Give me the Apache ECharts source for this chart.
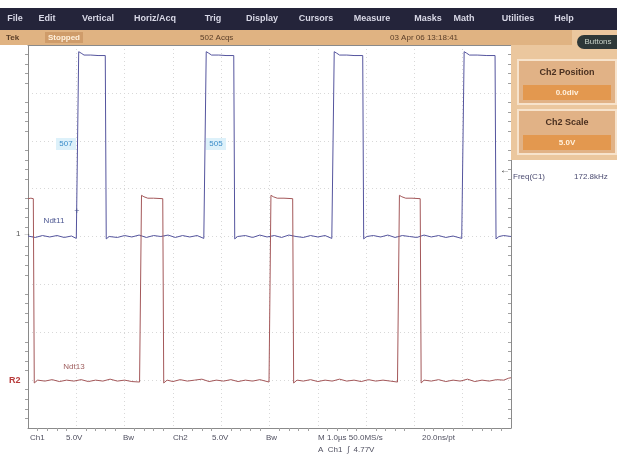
<!DOCTYPE html>
<html>
<head>
<meta charset="utf-8">
<script src="https://cdn.jsdelivr.net/npm/echarts@6/dist/echarts.min.js"></script>
<style>
html,body{margin:0;padding:0;background:#fff;}
#main{width:617px;height:456px;}
</style>
</head>
<body>
<div id="main"></div>
<script>
// time in divisions (1.0us/div), level in divisions (5.0V/div)
var blueTime = [0,0.15,0.3,0.45,0.6,0.75,0.9,1.0,1.03, 1.05,1.1,1.16,1.3,1.45,1.6,
	1.62,1.68,1.85,2.0,2.15,2.3,2.45,2.6,2.75,2.9,3.05,3.2,3.35,3.5,3.64,3.67,
	3.69,3.74,3.8,3.95,4.1,4.26,
	4.28,4.34,4.5,4.65,4.8,4.95,5.1,5.25,5.4,5.55,5.7,5.85,6.0,6.15,6.29,6.32,
	6.34,6.39,6.45,6.6,6.75,6.93,
	6.95,7.01,7.15,7.3,7.45,7.6,7.75,7.9,8.05,8.2,8.35,8.5,8.65,8.8,8.98,9.01,
	9.03,9.08,9.14,9.3,9.5,9.67,
	9.69,9.75,9.85,10];
var blueLevel = [0.01,-0.02,0.02,-0.01,0.02,-0.02,0.01,-0.04,-0.02, 3.86,3.83,3.79,3.79,3.78,3.78,
	-0.05,0.0,-0.02,0.02,-0.01,0.03,-0.02,0.02,0.0,0.03,-0.02,0.02,-0.01,0.02,-0.04,-0.02,
	3.86,3.83,3.79,3.79,3.78,3.78,
	-0.05,0.0,0.02,-0.02,0.03,-0.01,0.02,-0.02,0.03,0.0,-0.02,0.02,-0.01,0.02,-0.04,-0.02,
	3.86,3.83,3.79,3.79,3.78,3.78,
	-0.05,0.0,0.02,-0.01,0.03,-0.02,0.02,0.0,-0.02,0.03,-0.01,0.02,-0.02,0.01,-0.04,-0.02,
	3.86,3.83,3.79,3.79,3.78,3.78,
	-0.05,0.0,0.02,0.0];

var redTime = [0,0.06,0.11, 0.13,0.2,0.35,0.5,0.65,0.8,0.95,1.1,1.25,1.4,1.55,1.7,1.85,2.0,2.15,2.31,2.33,
	2.35,2.4,2.48,2.6,2.79,
	2.81,2.88,3.0,3.15,3.3,3.45,3.6,3.75,3.9,4.05,4.2,4.35,4.5,4.65,4.8,4.99,5.01,
	5.03,5.08,5.16,5.3,5.48,
	5.5,5.57,5.7,5.85,6.0,6.15,6.3,6.45,6.6,6.75,6.9,7.05,7.2,7.35,7.5,7.65,7.67,
	7.69,7.74,7.82,7.95,8.12,
	8.14,8.2,8.35,8.5,8.65,8.8,8.95,9.1,9.25,9.4,9.55,9.7,9.85,9.95,10];
var redLevel = [0.79,0.8,0.79, -3.06,-3.0,-3.02,-2.99,-3.03,-3.0,-3.02,-2.99,-3.03,-3.0,-3.02,-2.98,-3.02,-3.0,-3.03,-3.04,-3.02,
	0.86,0.83,0.8,0.8,0.79,
	-3.06,-3.0,-3.03,-2.99,-3.02,-3.0,-2.98,-3.03,-3.0,-3.02,-2.99,-3.03,-3.0,-3.02,-2.99,-3.04,-3.02,
	0.86,0.83,0.8,0.8,0.79,
	-3.06,-3.0,-3.02,-2.99,-3.03,-3.0,-3.02,-2.98,-3.02,-3.0,-3.03,-2.99,-3.02,-3.0,-3.02,-3.04,-3.02,
	0.86,0.83,0.8,0.8,0.79,
	-3.06,-3.0,-3.02,-2.99,-3.03,-3.0,-3.02,-2.98,-3.03,-3.0,-3.02,-2.99,-3.0,-2.96,-2.95];

var menuItems = ['File','Edit','Vertical','Horiz/Acq','Trig','Display','Cursors','Measure','Masks','Math','Utilities','Help'];
var menuX = [15,47,98,155,213,262,316,372,428,464,518,564];

var bottomRow1 = [['Ch1',30],['5.0V',66],['Bw',123],['Ch2',173],['5.0V',212],['Bw',266],['M 1.0\u00b5s 50.0MS/s',318],['20.0ns/pt',422]];
var bottomRow2 = [['A  Ch1  \u222b  4.77V',318]];

var font = '"Liberation Sans", Arial, sans-serif';

function pairs(t, v){
	var out = [];
	for (var i = 0; i < t.length; i++) out.push([t[i], v[i]]);
	return out;
}

function frameAxis(pos, isX, ticks, inside){
	return {
		type:'value', position:pos,
		min: isX ? 0 : -4, max: isX ? 10 : 4, interval:1,
		axisLine:{show:true, onZero:false, lineStyle:{color:'#8a8a8a', width:1}},
		axisTick:{show:false},
		minorTick:{show:ticks, splitNumber:5, length:3, lineStyle:{color:'#a0a0a0'}},
		axisLabel:{show:false, inside:inside},
		splitLine:{show:false}
	};
}

var chart = echarts.init(document.getElementById('main'));

var xMain = frameAxis('bottom', true, true, false);
xMain.splitLine = {show:true, lineStyle:{color:'#d8d8d8', type:[1,3], width:1}};
var yMain = frameAxis('left', false, true, false);
yMain.splitLine = {show:true, lineStyle:{color:'#d8d8d8', type:[1,3], width:1}};
var xTop = frameAxis('top', true, false, false);
var yRight = frameAxis('right', false, true, true);
yRight.minorTick.length = -3;

var gfx = [];
gfx.push({type:'rect', shape:{x:0,y:8,width:617,height:22}, style:{fill:'#24243a'}, z:10});
for (var i = 0; i < menuItems.length; i++) {
	gfx.push({type:'text', x:menuX[i], y:19, style:{text:menuItems[i], fill:'#d8d8e6', font:'bold 9px ' + font, textAlign:'center', textVerticalAlign:'middle'}, z:11});
}
gfx.push({type:'rect', shape:{x:0,y:30,width:572,height:15}, style:{fill:'#e0b382'}, z:10});
gfx.push({type:'rect', shape:{x:45,y:32,width:38,height:11}, style:{fill:'#cf9c6a'}, z:10});
gfx.push({type:'text', x:6, y:37.5, style:{text:'Tek', fill:'#5a3e28', font:'bold 8px ' + font, textVerticalAlign:'middle'}, z:11});
gfx.push({type:'text', x:48, y:37.5, style:{text:'Stopped', fill:'#fff0dc', font:'bold 8px ' + font, textVerticalAlign:'middle'}, z:11});
gfx.push({type:'text', x:200, y:37.5, style:{text:'502 Acqs', fill:'#5a3e28', font:'8px ' + font, textVerticalAlign:'middle'}, z:11});
gfx.push({type:'text', x:390, y:37.5, style:{text:'03 Apr 06 13:18:41', fill:'#5a3e28', font:'8px ' + font, textVerticalAlign:'middle'}, z:11});
// right side panel
gfx.push({type:'rect', shape:{x:511,y:30,width:106,height:130}, style:{fill:'#ebc79e'}, z:9});
gfx.push({type:'rect', shape:{x:577,y:35,width:50,height:14,r:7}, style:{fill:'#2e3838'}, z:11});
gfx.push({type:'text', x:598, y:42, style:{text:'Buttons', fill:'#c8d2c8', font:'8px ' + font, textAlign:'center', textVerticalAlign:'middle'}, z:12});
var boxes = [['Ch2 Position','0.0div',60],['Ch2 Scale','5.0V',110]];
for (var b = 0; b < boxes.length; b++) {
	var by = boxes[b][2];
	gfx.push({type:'rect', shape:{x:518,y:by,width:98,height:44}, style:{fill:'#e1b286', stroke:'#f7e3cc', lineWidth:2}, z:10});
	gfx.push({type:'text', x:567, y:by + 13, style:{text:boxes[b][0], fill:'#4a3020', font:'bold 9px ' + font, textAlign:'center', textVerticalAlign:'middle'}, z:11});
	gfx.push({type:'rect', shape:{x:523,y:by + 25,width:88,height:15}, style:{fill:'#e3984f'}, z:11});
	gfx.push({type:'text', x:567, y:by + 33, style:{text:boxes[b][1], fill:'#fff1de', font:'bold 8px ' + font, textAlign:'center', textVerticalAlign:'middle'}, z:12});
}
// measurement readout
gfx.push({type:'text', x:500, y:170, style:{text:'\u2190', fill:'#333', font:'10px ' + font, textVerticalAlign:'middle'}, z:11});
gfx.push({type:'text', x:513, y:177, style:{text:'Freq(C1)', fill:'#4a4a70', font:'8px ' + font, textVerticalAlign:'middle'}, z:11});
gfx.push({type:'text', x:574, y:177, style:{text:'172.8kHz', fill:'#4a4a70', font:'8px ' + font, textVerticalAlign:'middle'}, z:11});
// in-screen labels
var tags = [['507',66,144],['505',216,144]];
for (var k = 0; k < tags.length; k++) {
	gfx.push({type:'rect', shape:{x:tags[k][1] - 10,y:tags[k][2] - 6,width:20,height:12}, style:{fill:'#ddf1fa'}, z:11});
	gfx.push({type:'text', x:tags[k][1], y:tags[k][2], style:{text:tags[k][0], fill:'#3a8cc8', font:'8px ' + font, textAlign:'center', textVerticalAlign:'middle'}, z:12});
}
gfx.push({type:'text', x:54, y:221, style:{text:'Ndt11', fill:'#4a5590', font:'8px ' + font, textAlign:'center', textVerticalAlign:'middle'}, z:11});
gfx.push({type:'text', x:77, y:212, style:{text:'+', fill:'#4a5590', font:'9px ' + font, textAlign:'center', textVerticalAlign:'middle'}, z:11});
gfx.push({type:'text', x:74, y:367, style:{text:'Ndt13', fill:'#a06060', font:'8px ' + font, textAlign:'center', textVerticalAlign:'middle'}, z:11});
gfx.push({type:'text', x:16, y:234, style:{text:'1 \u2192', fill:'#555', font:'8px ' + font, textVerticalAlign:'middle'}, z:11});
gfx.push({type:'text', x:9, y:381, style:{text:'R2', fill:'#b83a3a', font:'bold 9px ' + font, textVerticalAlign:'middle'}, z:11});
// bottom readout
for (var r = 0; r < bottomRow1.length; r++) {
	gfx.push({type:'text', x:bottomRow1[r][1], y:438, style:{text:bottomRow1[r][0], fill:'#505060', font:'8px ' + font, textVerticalAlign:'middle'}, z:11});
}
for (var r2 = 0; r2 < bottomRow2.length; r2++) {
	gfx.push({type:'text', x:bottomRow2[r2][1], y:450, style:{text:bottomRow2[r2][0], fill:'#505060', font:'8px ' + font, textVerticalAlign:'middle'}, z:11});
}

var option = {
	backgroundColor:'#ffffff',
	animation:false,
	grid:{left:28, right:106, top:45, bottom:28, show:false},
	xAxis:[xMain, xTop],
	yAxis:[yMain, yRight],
	series:[
		{type:'line', xAxisIndex:0, yAxisIndex:0, data:pairs(blueTime, blueLevel), symbol:'none',
			lineStyle:{color:'#55559e', width:1}, z:3},
		{type:'line', xAxisIndex:0, yAxisIndex:0, data:pairs(redTime, redLevel), symbol:'none',
			lineStyle:{color:'#a4585a', width:1}, z:4}
	],
	graphic:gfx
};
chart.setOption(option);
</script>
</body>
</html>
